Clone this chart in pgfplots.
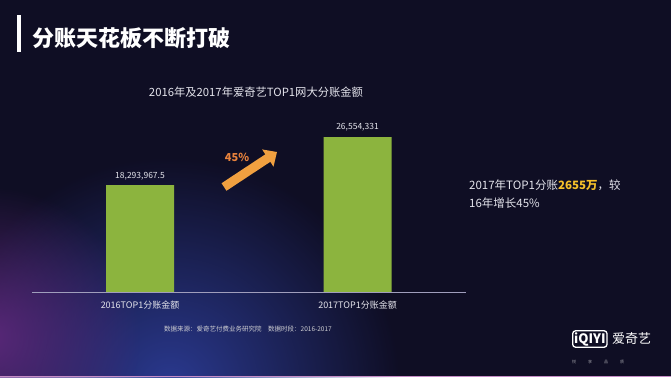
\documentclass[border=0pt]{standalone}
\usepackage{fontspec}
\setmainfont{Noto Sans CJK SC}
\usepackage{pgfplots}
\usepackage{pgfplotstable}
\pgfplotsset{compat=1.18}
\usetikzlibrary{fadings,arrows.meta}
\tikzfading[name=glow, inner color=transparent!0, outer color=transparent!100]
\definecolor{bg}{HTML}{0F0E24}
\definecolor{bargreen}{HTML}{8CB43E}
\definecolor{axisgrey}{HTML}{A09EBC}
\definecolor{arroworange}{HTML}{F0A040}
\definecolor{pctorange}{HTML}{E8823C}
\definecolor{hlyellow}{HTML}{F5C02A}
\definecolor{softwhite}{HTML}{E4E4EC}
\definecolor{glowblue}{HTML}{2C3C96}
\definecolor{glowpurple}{HTML}{6A2C88}
\pgfplotstableread{
x y label
140 18293967.5 18,293,967.5
357.5 26554331 26,554,331
}\datatable
\begin{document}
\begin{tikzpicture}[x=1pt,y=1pt]
\useasboundingbox (0,0) rectangle (671,377);
\begin{scope}
\clip (0,0) rectangle (671,377);
\fill[bg] (0,0) rectangle (671,377);
\fill[glowblue, opacity=0.95, path fading=glow] (170,-10) circle (230);
\fill[glowpurple, opacity=0.8, path fading=glow] (-10,40) circle (150);
\draw[color=white!55!violet, line width=1.5pt] (0,0.75) -- (671,0.75);
\end{scope}
% title bar
\fill[white] (17,362) rectangle (21,325);
\node[anchor=west, text=white, font=\fontsize{22}{22}\selectfont\bfseries, inner sep=0] at (32,339) {分账天花板不断打破};
% chart title
\node[text=softwhite, font=\fontsize{11.3}{11.3}\selectfont, inner sep=0] at (256,285) {2016年及2017年爱奇艺TOP1网大分账金额};
\begin{axis}[
  at={(32pt,85pt)}, anchor=origin,
  scale only axis, width=434pt, height=180pt,
  xmin=32, xmax=466, ymin=0, ymax=30.84e6,
  axis x line*=bottom, axis y line=none,
  x axis line style={color=axisgrey, line width=0.9pt},
  xtick={140,357.5},
  xticklabels={2016TOP1分账金额,2017TOP1分账金额},
  major tick length=0pt,
  xticklabel style={text=softwhite, font=\fontsize{9}{9}\selectfont, yshift=-5pt},
  clip=false,
  ybar, bar width=68pt,
  point meta=explicit symbolic,
  nodes near coords,
  every node near coord/.append style={text=softwhite, font=\fontsize{8.5}{8.5}\selectfont, yshift=2pt},
]
\addplot[fill=bargreen, draw=none] table[x=x, y=y, meta=label] {\datatable};
\end{axis}
% growth arrow
\draw[arroworange, line width=9pt, -{Triangle[width=20pt,length=11pt]}] (224,190) -- (277,225);
\node[text=pctorange, font=\fontsize{11}{11}\selectfont\bfseries, inner sep=0] at (237,220) {45\%};
% right annotation
\node[anchor=west, text=softwhite, font=\fontsize{11.5}{11.5}\selectfont, inner sep=0] at (469,192) {2017年TOP1分账{\bfseries\color{hlyellow}2655万}，较};
\node[anchor=west, text=softwhite, font=\fontsize{11.5}{11.5}\selectfont, inner sep=0] at (469,174) {16年增长45\%};
% footer
\node[text=white!80!bg, font=\fontsize{6.5}{6.5}\selectfont, inner sep=0] at (248,48) {数据来源：爱奇艺付费业务研究院\quad 数据时段：2016-2017};
% logo
\node[draw=white, line width=1.3pt, rounded corners=3pt, text=white, font=\fontsize{13}{13}\selectfont\bfseries, inner sep=1.5pt, anchor=west] at (572,38) {iQIYI};
\node[text=white, font=\fontsize{13}{13}\selectfont, inner sep=0, anchor=west] at (612,38) {爱奇艺};
\node[text=white!60!bg, font=\fontsize{4}{4}\selectfont, inner sep=0] at (598,15) {悦\hspace{12pt}享\hspace{12pt}品\hspace{12pt}质};
\end{tikzpicture}
\end{document}
